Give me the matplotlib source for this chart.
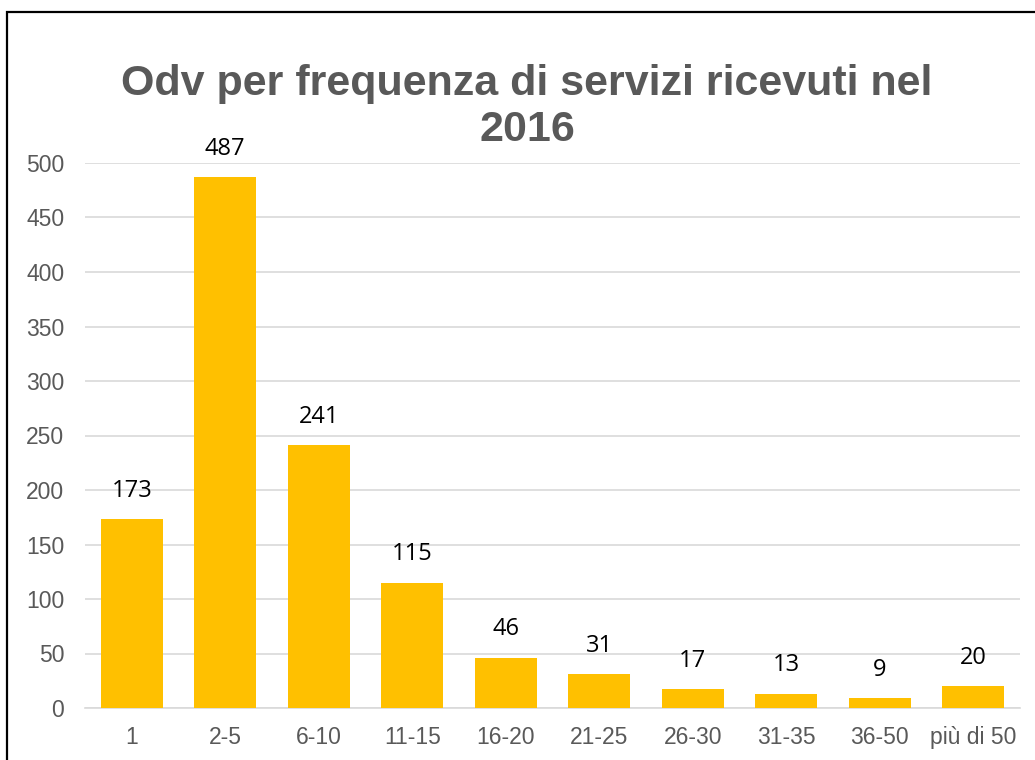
import matplotlib
matplotlib.use("Agg")
import matplotlib.pyplot as plt
from matplotlib.patches import Rectangle

categories = ["1", "2-5", "6-10", "11-15", "16-20", "21-25", "26-30", "31-35", "36-50", "più di 50"]
values = [173, 487, 241, 115, 46, 31, 17, 13, 9, 20]
yticks = [0, 50, 100, 150, 200, 250, 300, 350, 400, 450, 500]

W, H = 1035, 760
fig = plt.figure(figsize=(W / 100, H / 100), dpi=100)

# outer chart frame, cut off on the right and bottom
fig.patches.append(Rectangle((7 / W, -0.1), 1.2, 1.1 - 12 / H, transform=fig.transFigure,
                             fill=False, edgecolor="black", linewidth=1.6))

ax = fig.add_axes([85 / W, 1 - 708 / H, (1020 - 85) / W, (708 - 163) / H])
x = range(len(categories))
bars = ax.bar(x, values, width=0.66, color="#FFC000", zorder=3)

for xi, v in zip(x, values):
    ax.annotate(str(v), (xi, v), xytext=(0, 12), textcoords="offset points",
                ha="center", va="bottom", fontsize=17, family="Open Sans", color="black")

ax.set_xlim(-0.5, len(categories) - 0.5)
ax.set_ylim(0, 500)
ax.set_yticks(yticks)
ax.set_xticks(list(x))
ax.set_xticklabels(categories)
ax.grid(axis="y", color="#D9D9D9", linewidth=1.2, zorder=0)
for s in ["top", "right", "left"]:
    ax.spines[s].set_visible(False)
ax.spines["bottom"].set_color("#D9D9D9")
ax.spines["bottom"].set_linewidth(1.2)
ax.tick_params(length=0, labelsize=16.5, labelcolor="#595959")
for lab in ax.get_xticklabels() + ax.get_yticklabels():
    lab.set_family("Liberation Sans")
ax.tick_params(axis="x", pad=13)
ax.tick_params(axis="y", pad=15)

fig.text(527 / W, 1 - 107 / H, "Odv per frequenza di servizi ricevuti nel\n2016",
         ha="center", va="center", fontsize=31, fontweight="bold", color="#595959",
         family="Liberation Sans", linespacing=1.17)

fig.savefig("out.png", dpi=100)
